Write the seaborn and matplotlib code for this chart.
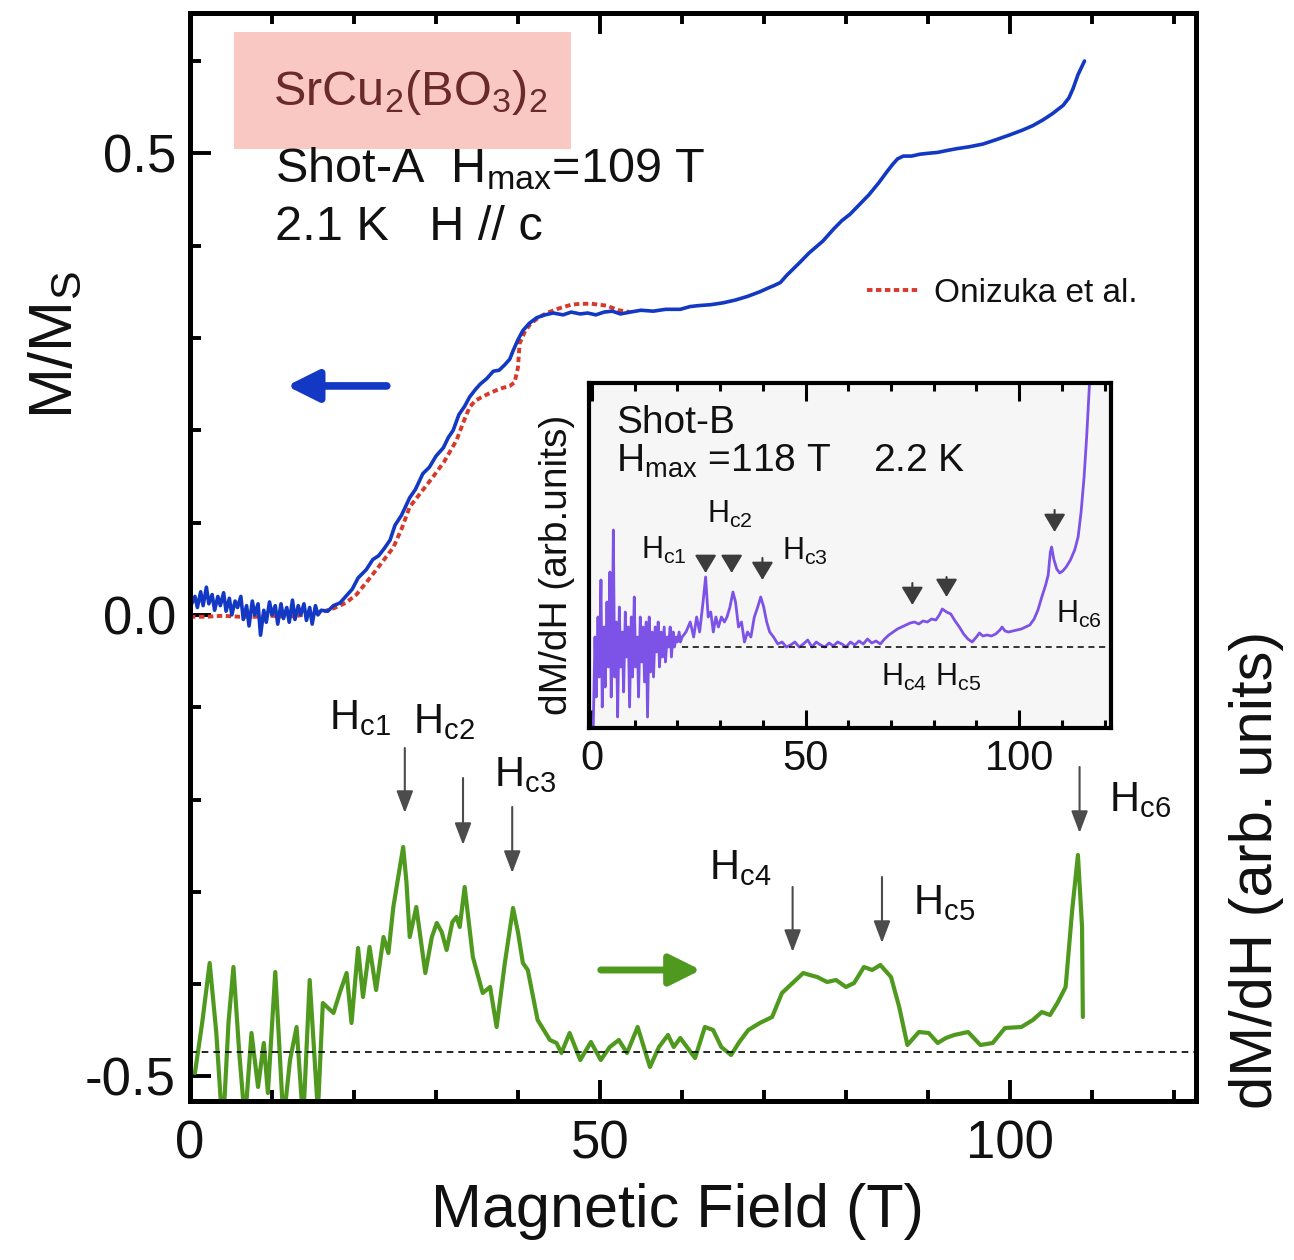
import matplotlib.pyplot as plt
import matplotlib.patches as mpatches
import seaborn as sns

# Shot-A magnetization M/Ms vs field (T)
shot_a_m = [
    (0.2, 0.012), (0.6, 0.020), (0.9, 0.008), (1.3, 0.025), (1.6, 0.010), (2.0, 0.030), (2.3, 0.012), (2.7, 0.022),
    (3.0, 0.005), (3.4, 0.020), (3.7, 0.010), (4.1, 0.024), (4.4, 0.004), (4.8, 0.018), (5.1, 0.000), (5.5, 0.015),
    (5.8, 0.008), (6.2, 0.020), (6.5, -0.005), (6.9, 0.010), (7.2, -0.012), (7.6, 0.015), (7.9, 0.000), (8.3, 0.012),
    (8.6, -0.022), (9.0, 0.005), (9.3, -0.008), (9.7, 0.014), (10.0, 0.000), (10.4, 0.010), (10.7, -0.010), (11.1, 0.012),
    (11.4, -0.004), (11.8, 0.008), (12.1, -0.008), (12.5, 0.016), (12.8, -0.005), (13.2, 0.010), (13.5, 0.000),
    (13.9, 0.012), (14.2, -0.006), (14.6, 0.008), (14.9, -0.010), (15.3, 0.010), (15.6, 0.000), (16.0, 0.005),
    (16.8, 0.004), (17.5, 0.010), (18.3, 0.013), (19.0, 0.020), (19.8, 0.028), (20.5, 0.040), (21.5, 0.049),
    (22.3, 0.060), (23.0, 0.064), (23.7, 0.072), (24.4, 0.081), (25.0, 0.097), (25.8, 0.108), (26.8, 0.127),
    (27.5, 0.136), (28.4, 0.153), (29.2, 0.160), (30.0, 0.172), (30.9, 0.181), (31.5, 0.192), (32.1, 0.200),
    (32.8, 0.217), (33.5, 0.226), (34.1, 0.236), (34.8, 0.244), (35.4, 0.250), (36.2, 0.256), (37.0, 0.264),
    (37.7, 0.265), (38.4, 0.271), (39.0, 0.277), (39.4, 0.286), (40.0, 0.298), (40.6, 0.308), (41.4, 0.316),
    (42.3, 0.322), (43.3, 0.325), (44.3, 0.327), (45.5, 0.325), (46.5, 0.328), (47.6, 0.326), (48.5, 0.327),
    (49.5, 0.325), (50.5, 0.328), (51.5, 0.329), (52.5, 0.326), (53.7, 0.328), (55.0, 0.330), (56.5, 0.329),
    (58.0, 0.331), (59.8, 0.331), (61.0, 0.334), (62.0, 0.335), (63.5, 0.336), (65.0, 0.338), (66.5, 0.341),
    (68.0, 0.345), (69.5, 0.350), (70.5, 0.354), (71.3, 0.357), (72.0, 0.360), (72.8, 0.368), (73.6, 0.375),
    (74.4, 0.382), (75.5, 0.392), (77.2, 0.405), (78.5, 0.418), (79.5, 0.427), (80.5, 0.434), (81.7, 0.445),
    (82.8, 0.455), (84.0, 0.468), (85.0, 0.480), (85.7, 0.488), (86.3, 0.494), (87.0, 0.497), (88.0, 0.497),
    (89.0, 0.499), (90.0, 0.500), (91.2, 0.501), (92.3, 0.503), (93.5, 0.505), (95.0, 0.507), (96.7, 0.510),
    (98.4, 0.515), (100.0, 0.520), (101.5, 0.525), (102.8, 0.530), (104.0, 0.536), (105.2, 0.543), (106.5, 0.552),
    (107.2, 0.560), (107.7, 0.570), (108.3, 0.585), (109.1, 0.600),
]

# Onizuka et al. reference curve
onizuka_m = [
    (0.0, -0.002), (2.0, -0.002), (4.0, -0.001), (6.0, -0.002), (8.0, -0.002), (10.0, -0.001), (12.0, -0.002),
    (14.0, 0.000), (16.0, 0.003), (17.5, 0.007), (19.0, 0.013), (20.3, 0.022), (21.5, 0.035), (23.0, 0.052),
    (24.8, 0.073), (25.8, 0.093), (26.8, 0.117), (28.2, 0.133), (29.6, 0.149), (31.0, 0.166), (32.5, 0.189),
    (33.4, 0.210), (34.1, 0.225), (34.8, 0.232), (35.4, 0.235), (36.5, 0.240), (37.8, 0.245), (39.0, 0.248),
    (39.6, 0.252), (40.0, 0.268), (40.2, 0.294), (40.8, 0.306), (41.5, 0.315), (42.5, 0.322), (43.5, 0.327),
    (45.0, 0.332), (46.5, 0.336), (47.6, 0.337), (49.0, 0.337), (50.8, 0.335), (52.3, 0.330), (53.7, 0.328),
]

# Shot-A dM/dH (arb. units, 0 = dashed baseline)
shot_a_dmdh = [
    (0.6, -0.21), (1.5, 0.30), (2.4, 0.89), (3.2, 0.20), (4.0, -0.80), (4.7, 0.30), (5.3, 0.85), (6.0, 0.00),
    (6.7, -0.70), (7.5, 0.19), (8.3, -0.35), (9.0, 0.09), (9.5, -0.41), (10.4, 0.80), (11.4, -0.70), (12.2, -0.08),
    (13.0, 0.25), (13.8, -0.70), (14.6, 0.72), (15.6, -0.60), (16.2, 0.49), (17.5, 0.39), (18.3, 0.60),
    (19.1, 0.79), (19.7, 0.29), (20.5, 1.04), (21.1, 0.55), (21.9, 1.05), (22.7, 0.62), (23.6, 1.15), (24.2, 0.99),
    (24.8, 1.45), (25.5, 1.80), (26.0, 2.05), (26.4, 1.70), (26.8, 1.15), (27.6, 1.45), (28.7, 0.79), (29.5, 1.15),
    (30.1, 1.29), (30.7, 1.20), (31.3, 1.02), (32.0, 1.30), (32.5, 1.35), (32.9, 1.25), (33.5, 1.65), (34.0, 1.30),
    (34.5, 0.95), (35.7, 0.59), (36.6, 0.65), (37.4, 0.25), (38.4, 0.89), (39.4, 1.44), (40.0, 1.20), (40.6, 0.89),
    (41.2, 0.82), (42.4, 0.32), (43.9, 0.12), (44.7, 0.09), (45.3, -0.01), (46.3, 0.19), (47.6, -0.08), (48.9, 0.10),
    (50.1, -0.08), (51.2, 0.05), (52.3, 0.12), (53.3, -0.01), (54.6, 0.25), (56.1, -0.15), (57.2, 0.05),
    (58.3, 0.17), (59.0, 0.05), (59.8, 0.14), (61.6, -0.06), (62.8, 0.25), (63.8, 0.22), (64.8, 0.05), (66.0, -0.03),
    (67.0, 0.10), (68.1, 0.22), (69.5, 0.29), (71.0, 0.35), (72.2, 0.59), (73.5, 0.69), (74.8, 0.79), (75.6, 0.77),
    (76.5, 0.75), (77.7, 0.70), (78.8, 0.72), (80.0, 0.65), (81.0, 0.69), (82.2, 0.85), (83.2, 0.82), (84.2, 0.87),
    (85.5, 0.75), (86.5, 0.45), (87.5, 0.07), (88.9, 0.20), (90.1, 0.19), (91.2, 0.09), (92.2, 0.14), (93.2, 0.17),
    (94.9, 0.20), (96.4, 0.07), (97.9, 0.09), (99.4, 0.24), (101.4, 0.25), (102.8, 0.32), (103.9, 0.40),
    (104.9, 0.37), (105.8, 0.49), (106.8, 0.65), (107.6, 1.42), (108.3, 1.97), (108.8, 1.25), (108.9, 0.35),
]

# Shot-B dM/dH (inset)
shot_b_dmdh = [
    (0.3, -0.80), (0.7, 0.10), (1.0, -0.50), (1.4, 0.30), (1.7, -0.30), (2.1, 0.67), (2.4, -0.60), (2.8, 0.20),
    (3.1, -0.40), (3.5, 0.45), (3.8, -0.20), (4.2, 0.75), (4.5, -0.50), (4.8, 0.30), (5.0, 1.17), (5.3, -0.30),
    (5.7, 0.25), (6.0, -0.70), (6.4, 0.40), (6.7, -0.20), (7.1, 0.15), (7.4, -0.45), (7.8, 0.35), (8.1, -0.10),
    (8.5, 0.20), (8.8, -0.60), (9.2, 0.30), (9.5, -0.30), (9.9, 0.50), (10.2, -0.20), (10.6, 0.10), (10.9, -0.50),
    (11.3, 0.30), (11.6, -0.15), (12.0, 0.20), (12.3, -0.35), (12.7, 0.25), (13.0, -0.70), (13.4, 0.30),
    (13.7, -0.25), (14.1, 0.15), (14.4, -0.30), (14.8, 0.20), (15.1, -0.05), (15.5, 0.25), (15.8, -0.20),
    (16.2, 0.15), (16.5, -0.10), (16.9, 0.20), (17.2, -0.15), (17.6, 0.10), (17.9, 0.00), (18.3, 0.20),
    (18.6, -0.10), (19.0, 0.15), (19.3, 0.00), (19.7, 0.10), (20.0, 0.05), (20.4, 0.15), (20.7, 0.05), (21.1, 0.10),
    (22.0, 0.15), (23.0, 0.25), (23.8, 0.10), (24.5, 0.30), (25.2, 0.15), (26.0, 0.45), (26.6, 0.70), (27.2, 0.30),
    (27.8, 0.35), (28.4, 0.15), (29.0, 0.30), (29.6, 0.20), (30.3, 0.30), (31.0, 0.25), (31.6, 0.30), (32.3, 0.40),
    (33.0, 0.55), (33.6, 0.45), (34.3, 0.20), (35.0, 0.25), (35.7, 0.05), (36.4, 0.15), (37.2, 0.10), (38.0, 0.30),
    (38.8, 0.40), (39.5, 0.50), (40.2, 0.40), (40.9, 0.25), (41.6, 0.15), (42.5, 0.10), (43.5, 0.03), (44.5, 0.05),
    (45.5, 0.00), (46.5, 0.02), (47.5, 0.05), (48.5, 0.00), (49.5, 0.03), (50.5, 0.07), (51.5, 0.00), (52.5, 0.05),
    (53.5, 0.02), (54.5, 0.00), (55.5, 0.04), (56.5, 0.01), (57.5, 0.05), (58.5, 0.03), (59.5, 0.00), (60.5, 0.05),
    (61.5, 0.02), (62.5, 0.06), (63.5, 0.03), (64.5, 0.08), (65.5, 0.04), (66.5, 0.06), (67.5, 0.03), (68.5, 0.08),
    (69.5, 0.12), (70.5, 0.15), (71.5, 0.18), (72.5, 0.20), (73.5, 0.22), (74.5, 0.24), (75.5, 0.25), (76.5, 0.23),
    (77.5, 0.26), (78.5, 0.25), (79.5, 0.28), (80.5, 0.27), (81.3, 0.32), (82.0, 0.38), (83.0, 0.35), (84.0, 0.33),
    (85.0, 0.26), (86.0, 0.20), (87.0, 0.13), (88.0, 0.08), (89.0, 0.05), (90.0, 0.10), (90.7, 0.14), (91.5, 0.11),
    (92.5, 0.12), (93.5, 0.11), (94.5, 0.13), (95.5, 0.17), (96.0, 0.20), (96.7, 0.16), (97.5, 0.15), (98.5, 0.16),
    (99.5, 0.17), (100.5, 0.18), (101.5, 0.20), (102.5, 0.22), (103.5, 0.28), (104.4, 0.37), (105.3, 0.50),
    (106.2, 0.62), (106.8, 0.72), (107.3, 0.95), (107.6, 1.00), (108.1, 0.88), (108.8, 0.78), (109.5, 0.74),
    (110.2, 0.76), (111.0, 0.80), (112.0, 0.87), (113.0, 0.97), (113.8, 1.10), (114.5, 1.35), (115.2, 1.70),
    (115.8, 2.10), (116.3, 2.50), (116.8, 2.90),
]

# critical fields marked by arrows
hc_names = ['c1', 'c2', 'c3', 'c4', 'c5', 'c6']
hc_main = [26.2, 33.3, 39.3, 73.5, 84.4, 108.5]
hc_inset = [26.6, 32.7, 39.9, 75.0, 83.0, 108.3]

blue = '#1238c4'
red = '#d63a2c'
green = '#4f9a1e'
purple = '#7d52e6'
grey = '#4c4c4c'

sns.set_theme(style='ticks')
plt.rcParams['font.family'] = ['Liberation Sans', 'DejaVu Sans']
plt.rcParams['mathtext.fontset'] = 'custom'
plt.rcParams['mathtext.rm'] = 'Liberation Sans'
plt.rcParams['mathtext.it'] = 'Liberation Sans:italic'
plt.rcParams['axes.linewidth'] = 3.5
plt.rcParams['axes.edgecolor'] = 'black'
plt.rcParams['text.color'] = '#111111'
plt.rcParams['axes.labelcolor'] = '#111111'
plt.rcParams['xtick.color'] = 'black'
plt.rcParams['ytick.color'] = 'black'
plt.rcParams['xtick.labelcolor'] = '#111111'
plt.rcParams['ytick.labelcolor'] = '#111111'

fig = plt.figure(figsize=(12.94, 12.6), dpi=100)
ax = fig.add_axes([190 / 1294, 159 / 1260, 1006 / 1294, 1088 / 1260])

x, y = zip(*onizuka_m)
sns.lineplot(x=list(x), y=list(y), ax=ax, color=red, linewidth=2.8, linestyle=(0, (1.4, 0.9)),
             sort=False, estimator=None, label='Onizuka et al.')
x, y = zip(*shot_a_m)
sns.lineplot(x=list(x), y=list(y), ax=ax, color=blue, linewidth=2.6, sort=False, estimator=None)

ax.set_xlim(0, 122.7)
ax.set_ylim(-0.5266, 0.652)
ax.set_xticks([0, 50, 100])
ax.set_xticks(range(0, 121, 10), minor=True)
ax.set_yticks([-0.5, 0.0, 0.5])
ax.set_yticklabels(['-0.5', '0.0', '0.5'])
ax.set_yticks([i / 10 for i in range(-5, 7)], minor=True)
ax.tick_params(which='both', direction='in', top=True, right=False, width=2.8, labelsize=38)
ax.tick_params(which='major', length=15)
ax.tick_params(which='minor', length=8)
ax.tick_params(axis='x', pad=13)
ax.tick_params(axis='y', pad=10)

ax.set_xlabel('Magnetic Field (T)', fontsize=44)
ax.xaxis.set_label_coords(0.485, -0.075)
ax.set_ylabel('M/M$_\\mathrm{S}$', fontsize=44)
ax.yaxis.set_label_coords(-0.105, 0.695)

ax.add_patch(mpatches.Rectangle((0.0437, 0.875), 0.335, 0.1075, transform=ax.transAxes,
                                facecolor='#f9c8c2', edgecolor='none', zorder=1))
ax.text(0.2187, 0.927, 'SrCu$_2$(BO$_3$)$_2$', transform=ax.transAxes, ha='center', va='center',
        fontsize=35, color='#6b2a2a')
ax.text(0.0845, 0.8447, 'Shot-A  H$_\\mathrm{max}$=109 T', transform=ax.transAxes, fontsize=35,
        va='baseline')
ax.text(0.0845, 0.791, '2.1 K   H // c', transform=ax.transAxes, fontsize=35, va='baseline')

ax.legend(handles=[ax.lines[0]], labels=['Onizuka et al.'], loc='center left', frameon=False,
          bbox_to_anchor=(0.673, 0.7426), borderpad=0, borderaxespad=0, handlelength=1.6,
          handletextpad=0.4, fontsize=24)

# blue arrow -> left axis
ax.annotate('', xy=(11.8, 0.248), xytext=(24.0, 0.248),
            arrowprops=dict(arrowstyle='-|>,head_length=1.0,head_width=0.5', mutation_scale=19,
                            lw=5.5, color=blue, shrinkA=0, shrinkB=0))

# dM/dH on the right axis
ax2 = ax.twinx()
x, y = zip(*shot_a_dmdh)
sns.lineplot(x=list(x), y=list(y), ax=ax2, color=green, linewidth=3.0, sort=False, estimator=None)
ax2.axhline(0, color='black', lw=1.2, ls=(0, (4, 3)))
ax2.set_ylim(-0.49, 10.39)
ax2.set_yticks([])
ax2.tick_params(right=False, labelright=False)
ax2.set_ylabel('dM/dH (arb. units)', fontsize=43)
ax2.yaxis.set_label_coords(1.033, 0.212)

ax2.annotate('', xy=(62.3, 0.82), xytext=(50.1, 0.82),
             arrowprops=dict(arrowstyle='-|>,head_length=1.0,head_width=0.5', mutation_scale=19,
                             lw=5.0, color=green, shrinkA=0, shrinkB=0))

main_tail = [3.04, 2.74, 2.45, 1.65, 1.75, 2.85]
main_tip = [2.39, 2.07, 1.79, 1.00, 1.09, 2.19]
main_lab = [(20.7, 3.34), (31.0, 3.30), (40.9, 2.77), (67.1, 1.84), (92.0, 1.49), (115.9, 2.52)]
for name, h, t0, t1, (lx, ly) in zip(hc_names, hc_main, main_tail, main_tip, main_lab):
    ax2.annotate('', xy=(h, t1), xytext=(h, t0),
                 arrowprops=dict(arrowstyle='-|>,head_length=0.45,head_width=0.17', mutation_scale=30,
                                 lw=1.5, color=grey, shrinkA=0, shrinkB=0))
    ax2.text(lx, ly, 'H$_\\mathrm{' + name + '}$', fontsize=30, ha='center', va='center')

# inset: Shot-B
inset = fig.add_axes([589 / 1294, 532 / 1260, 522 / 1294, 345 / 1260], facecolor='#f6f6f6')
x, y = zip(*shot_b_dmdh)
sns.lineplot(x=list(x), y=list(y), ax=inset, color=purple, linewidth=2.0, sort=False, estimator=None)
inset.plot([21, 121.5], [0, 0], color='black', lw=1.1, ls=(0, (4, 3)))
inset.set_xlim(-0.7, 121.5)
inset.set_ylim(-0.81, 2.64)
inset.set_xticks([0, 50, 100])
inset.set_xticks(range(0, 121, 10), minor=True)
inset.set_yticks([])
for s in inset.spines.values():
    s.set_linewidth(3)
inset.tick_params(which='both', direction='in', top=True, left=False, width=2.2, labelsize=30, pad=8)
inset.tick_params(which='major', length=13)
inset.tick_params(which='minor', length=6)
inset.set_ylabel('dM/dH (arb.units)', fontsize=28)
inset.yaxis.set_label_coords(-0.027, 0.472)
inset.set_xlabel('')

inset.text(0.052, 0.855, 'Shot-B', transform=inset.transAxes, fontsize=28, va='baseline')
inset.text(0.052, 0.742, 'H$_\\mathrm{max}$ =118 T    2.2 K', transform=inset.transAxes, fontsize=28,
           va='baseline')

in_tail = [0.90, 0.90, 0.89, 0.64, 0.70, 1.37]
in_tip = [0.74, 0.74, 0.67, 0.42, 0.50, 1.15]
for h, t0, t1 in zip(hc_inset, in_tail, in_tip):
    inset.annotate('', xy=(h, t1), xytext=(h, t0),
                   arrowprops=dict(arrowstyle='-|>,head_length=0.5,head_width=0.3', mutation_scale=22,
                                   lw=1.5, color='#3c3c3c', shrinkA=0, shrinkB=0))
inset.text(16.9, 0.97, 'H$_\\mathrm{c1}$', fontsize=22, ha='center', va='center')
inset.text(32.3, 1.33, 'H$_\\mathrm{c2}$', fontsize=22, ha='center', va='center')
inset.text(49.8, 0.96, 'H$_\\mathrm{c3}$', fontsize=22, ha='center', va='center')
inset.text(79.4, -0.30, 'H$_\\mathrm{c4}$ H$_\\mathrm{c5}$', fontsize=22, ha='center', va='center')
inset.text(114.0, 0.33, 'H$_\\mathrm{c6}$', fontsize=22, ha='center', va='center')

fig.savefig('out.png', dpi=100)
